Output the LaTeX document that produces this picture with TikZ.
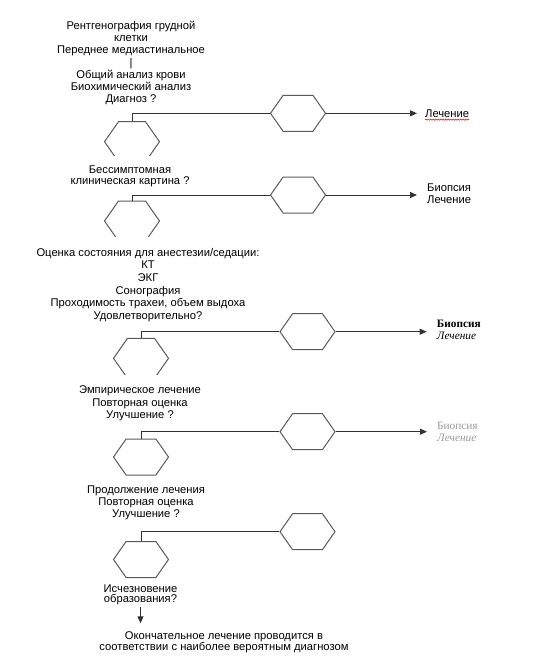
\documentclass[tikz,border=0pt]{standalone}
\usepackage{fontspec}
\setmainfont{Liberation Sans}
\newfontfamily\serifrus{Liberation Serif}
\usetikzlibrary{shapes.symbols, arrows.meta, decorations.pathmorphing}

\tikzset{
  hexa/.style={shape=signal, signal to=east and west, signal pointer angle=110,
    draw=black!65, line width=1pt, minimum width=55pt, minimum height=36pt, inner sep=0pt},
  hexatall/.style={hexa, minimum height=40pt},
  txt/.style={align=center, anchor=north, font=\fontsize{11.2}{12.4}\selectfont,
    inner xsep=2pt, inner ysep=2pt},
  cover/.style={txt, fill=white, inner ysep=10.5pt},
  line/.style={draw=black!80, line width=1pt},
  arr/.style={line, -{Triangle[length=7pt, width=6pt]}},
  outtxt/.style={anchor=west, inner sep=0pt, align=left, font=\fontsize{11.2}{12}\selectfont},
  outserif/.style={anchor=west, inner sep=0pt, align=left, font=\serifrus\fontsize{11.3}{11.7}\selectfont},
}

\begin{document}
\begin{tikzpicture}[x=1pt, y=-1pt]
    \useasboundingbox (0,0) rectangle (550,657);

    % Шестиугольники слева
    \node[hexatall] (l1) at (132,141.7) {};
    \node[hexatall] (l2) at (132,221) {};
    \node[hexatall] (l3) at (141,358.3) {};
    \node[hexa] (l4) at (141,457) {};
    \node[hexa] (l5) at (141,559.5) {};

    % Шестиугольники справа
    \node[hexa] (r1) at (298,113.3) {};
    \node[hexa] (r2) at (298,195) {};
    \node[hexa] (r3) at (307.5,331.7) {};
    \node[hexa] (r4) at (307.5,431.7) {};
    \node[hexa] (r5) at (307.5,531.7) {};

    % Тексты
    \node[txt, font=\fontsize{11.2}{12.2}\selectfont] (t1) at (131,19) {Рентгенография грудной\\клетки\\Переднее медиастинальное\\|\\Общий анализ крови\\Биохимический анализ\\Диагноз ?};
    \node[cover, font=\fontsize{11.2}{10.7}\selectfont] (t2) at (130,155.5) {Бессимптомная\\клиническая картина ?};
    \node[cover, font=\fontsize{11.2}{12.7}\selectfont] (t5) at (148,237.2) {Оценка состояния для анестезии/седации:\\КТ\\ЭКГ\\Сонография\\Проходимость трахеи, объем выдоха\\Удовлетворительно?};
    \node[cover, font=\fontsize{11.2}{12.8}\selectfont] (t7) at (140,374.8) {Эмпирическое лечение\\Повторная оценка\\Улучшение ?};
    \node[txt, font=\fontsize{11.2}{12}\selectfont] (t8) at (146,483.3) {Продолжение лечения\\Повторная оценка\\Улучшение ?};
    \node[txt, font=\fontsize{11.2}{10.2}\selectfont] (t9) at (140.5,582.3) {Исчезновение\\образования?};
    \node[txt, font=\fontsize{11.2}{11.7}\selectfont] (t10) at (224,629) {Окончательное лечение проводится в\\соответствии с наиболее вероятным диагнозом};

    % Исходы справа
    \node[outtxt] (o1) at (425,113.3) {Лечение};
    \node[outtxt] (o2) at (427,194) {Биопсия\\Лечение};
    \node[outserif] (o3) at (436.7,330) {{\bfseries Биопсия}\\{\itshape Лечение}};
    \node[outserif, text=black!40] (o4) at (437,432) {Биопсия\\{\itshape Лечение}};
    \draw[red, line width=0.6pt, decorate, decoration={snake, amplitude=0.6pt, segment length=2.5pt}]
        ([yshift=-2.5pt]o1.base west) -- ([yshift=-2.5pt]o1.base east);

    % Связи
    \draw[line] (l1.north) |- (r1.west);
    \draw[line] (l2.north) |- (r2.west);
    \draw[line] (l3.north) |- (r3.west);
    \draw[line] (l4.north) |- (r4.west);
    \draw[line] (l5.north) |- (r5.west);
    \draw[arr, shorten >=8pt] (r1.east) -- (r1.east -| o1.west);
    \draw[arr, shorten >=10pt] (r2.east) -- (r2.east -| o2.west);
    \draw[arr, shorten >=10pt] (r3.east) -- (r3.east -| o3.west);
    \draw[arr, shorten >=10pt] (r4.east) -- (r4.east -| o4.west);

    \coordinate (fin) at (140.5,623.3);
    \draw[arr] (t9.south) -- (fin);
\end{tikzpicture}
\end{document}
